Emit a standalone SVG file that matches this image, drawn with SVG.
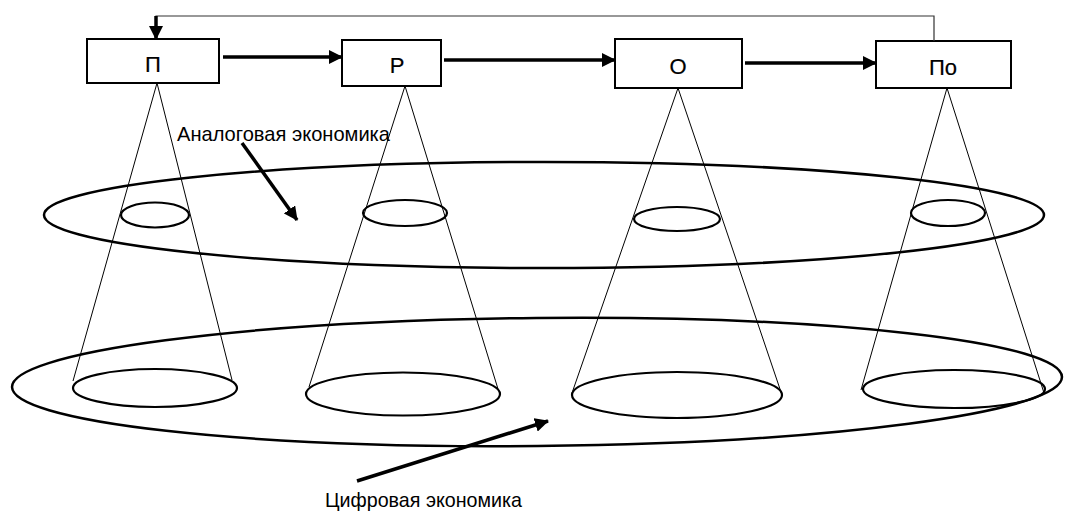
<svg xmlns="http://www.w3.org/2000/svg" width="1067" height="520" viewBox="0 0 1067 520">
<defs>
<marker id="ah" markerUnits="userSpaceOnUse" markerWidth="14" markerHeight="14" viewBox="0 0 14 14" refX="13" refY="7" orient="auto">
<path d="M0,0 L14,7 L0,14 Z" fill="#000"/>
</marker>
<style>
.box{fill:#fff;stroke:#000;stroke-width:2}
.lbl{font-family:"Liberation Sans",Arial,sans-serif;font-size:22px;fill:#000;stroke:#000;stroke-width:0.2;text-anchor:middle}
.txt{font-family:"Liberation Sans",Arial,sans-serif;font-size:21px;fill:#000}
.cone{fill:none;stroke:#000;stroke-width:1}
.ell{fill:none;stroke:#000;stroke-width:2.2}
.big{fill:none;stroke:#000;stroke-width:2.5}
.thick{fill:none;stroke:#000;stroke-width:3.5;marker-end:url(#ah)}
.fb{fill:none;stroke:#333;stroke-width:1.2}
</style>
</defs>
<rect width="1067" height="520" fill="#fff"/>

<g id="levels">
<ellipse class="big" cx="544" cy="215" rx="500" ry="53"/>
<ellipse class="big" cx="537" cy="382" rx="525" ry="64" transform="rotate(-0.55 537 382)"/>
</g>

<g id="cones">
<g id="cone-P">
<line class="cone" x1="157" y1="83" x2="73" y2="381"/>
<line class="cone" x1="157" y1="83" x2="232" y2="380"/>
<ellipse class="ell" cx="155" cy="215" rx="34" ry="12.5"/>
<ellipse class="ell" cx="155" cy="388" rx="82" ry="19"/>
</g>
<g id="cone-R">
<line class="cone" x1="405" y1="86" x2="309" y2="387"/>
<line class="cone" x1="405" y1="86" x2="498" y2="389"/>
<ellipse class="ell" cx="405" cy="213" rx="42" ry="13"/>
<ellipse class="ell" cx="403" cy="394" rx="97" ry="21.5"/>
</g>
<g id="cone-O">
<line class="cone" x1="678" y1="88" x2="572" y2="393"/>
<line class="cone" x1="678" y1="88" x2="782" y2="395"/>
<ellipse class="ell" cx="677" cy="219" rx="43" ry="12"/>
<ellipse class="ell" cx="677" cy="395" rx="105" ry="23"/>
</g>
<g id="cone-Po">
<line class="cone" x1="947" y1="88" x2="861" y2="390"/>
<line class="cone" x1="947" y1="88" x2="1044" y2="393"/>
<ellipse class="ell" cx="948" cy="213" rx="37" ry="13"/>
<ellipse class="ell" cx="954" cy="389" rx="91" ry="19"/>
</g>
</g>

<g id="node-P">
<rect class="box" x="87" y="39" width="132" height="44"/>
<text class="lbl" x="153" y="72">П</text>
</g>
<g id="node-R">
<rect class="box" x="342" y="40" width="99" height="46"/>
<text class="lbl" x="397" y="73">Р</text>
</g>
<g id="node-O">
<rect class="box" x="615" y="39" width="127" height="49"/>
<text class="lbl" x="678" y="74">О</text>
</g>
<g id="node-Po">
<rect class="box" x="876" y="41" width="135" height="47"/>
<text class="lbl" x="943" y="75">По</text>
</g>

<g id="connectors">
<line class="thick" x1="223" y1="57" x2="342" y2="57"/>
<line class="thick" x1="444" y1="60" x2="615" y2="60"/>
<line class="thick" x1="745" y1="63" x2="876" y2="63"/>
<polyline class="fb" points="934,41 934,16 156,16 156,20"/>
<line class="thick" x1="156" y1="16" x2="156" y2="39"/>
<line class="thick" x1="242" y1="143" x2="297" y2="220"/>
<line class="thick" x1="357" y1="481" x2="548" y2="421"/>
</g>

<g id="labels">
<text class="txt" x="177" y="141" textLength="213" lengthAdjust="spacingAndGlyphs">Аналоговая экономика</text>
<text class="txt" x="325" y="507" textLength="197" lengthAdjust="spacingAndGlyphs">Цифровая экономика</text>
</g>
</svg>
